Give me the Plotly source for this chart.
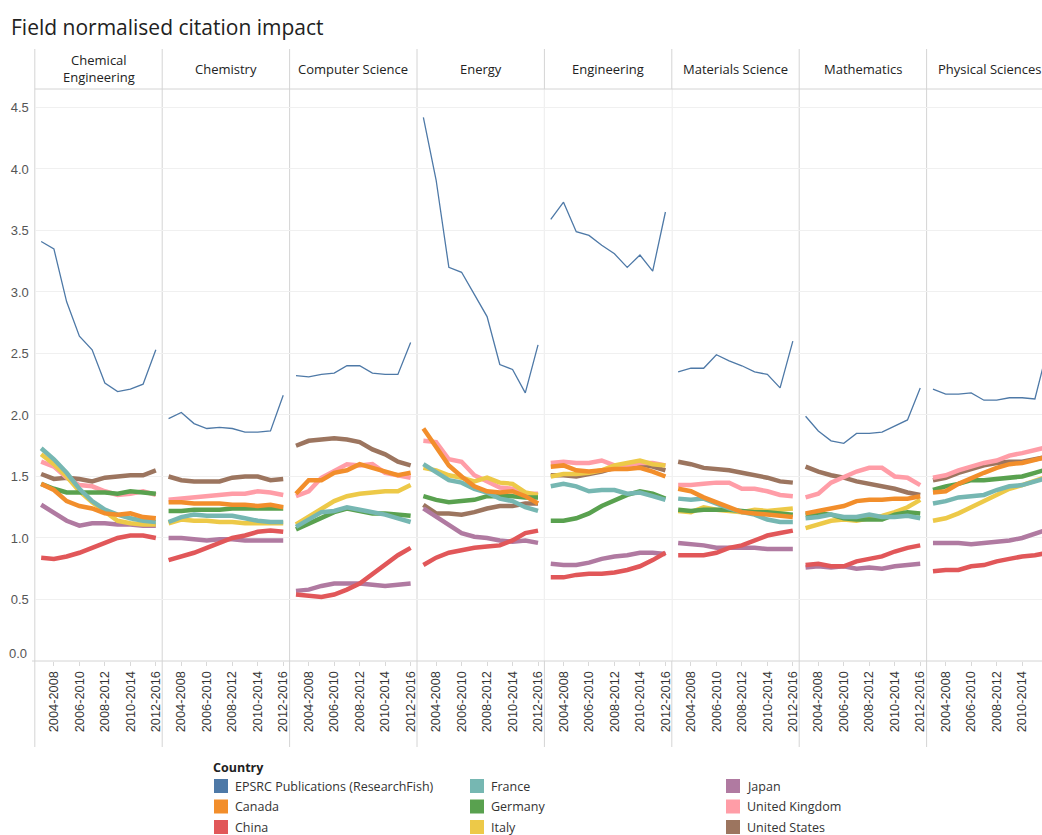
import plotly.graph_objects as go

# ---------------- data ----------------
periods = ["2003-2007", "2004-2008", "2005-2009", "2006-2010", "2007-2011",
           "2008-2012", "2009-2013", "2010-2014", "2011-2015", "2012-2016"]
tick_labels = ["2004-2008", "2006-2010", "2008-2012", "2010-2014", "2012-2016"]
fields = ["Chemical<br>Engineering", "Chemistry", "Computer Science", "Energy",
          "Engineering", "Materials Science", "Mathematics", "Physical Sciences"]
countries = ["EPSRC Publications (ResearchFish)", "Canada", "China", "France",
             "Germany", "Italy", "Japan", "United Kingdom", "United States"]
colors = ["#4e79a7", "#f28e2b", "#e15759", "#76b7b2", "#59a14f",
          "#edc948", "#b07aa1", "#ff9da7", "#9c755f"]
y_ticks = [0.0, 0.5, 1.0, 1.5, 2.0, 2.5, 3.0, 3.5, 4.0, 4.5]

# one list per field (order as in `fields`), 10 periods each
epsrc = [
    [3.41, 3.35, 2.92, 2.64, 2.53, 2.26, 2.19, 2.21, 2.25, 2.53],
    [1.97, 2.02, 1.93, 1.89, 1.90, 1.89, 1.86, 1.86, 1.87, 2.16],
    [2.32, 2.31, 2.33, 2.34, 2.40, 2.40, 2.34, 2.33, 2.33, 2.59],
    [4.42, 3.91, 3.20, 3.16, 2.98, 2.80, 2.41, 2.37, 2.18, 2.57],
    [3.59, 3.73, 3.49, 3.46, 3.38, 3.31, 3.20, 3.30, 3.17, 3.65],
    [2.35, 2.38, 2.38, 2.49, 2.44, 2.40, 2.35, 2.33, 2.22, 2.60],
    [1.99, 1.87, 1.79, 1.77, 1.85, 1.85, 1.86, 1.91, 1.96, 2.22],
    [2.21, 2.17, 2.17, 2.18, 2.12, 2.12, 2.14, 2.14, 2.13, 2.54],
]
canada = [
    [1.44, 1.39, 1.30, 1.26, 1.24, 1.20, 1.19, 1.20, 1.17, 1.16],
    [1.29, 1.29, 1.28, 1.28, 1.28, 1.27, 1.27, 1.26, 1.27, 1.25],
    [1.36, 1.47, 1.47, 1.53, 1.55, 1.60, 1.57, 1.54, 1.51, 1.53],
    [1.89, 1.74, 1.59, 1.50, 1.42, 1.38, 1.37, 1.38, 1.34, 1.28],
    [1.58, 1.59, 1.55, 1.54, 1.55, 1.56, 1.56, 1.57, 1.54, 1.50],
    [1.40, 1.38, 1.33, 1.29, 1.25, 1.21, 1.20, 1.19, 1.18, 1.17],
    [1.20, 1.22, 1.24, 1.26, 1.30, 1.31, 1.31, 1.32, 1.32, 1.34],
    [1.37, 1.38, 1.44, 1.49, 1.53, 1.57, 1.60, 1.61, 1.64, 1.66],
]
china = [
    [0.84, 0.83, 0.85, 0.88, 0.92, 0.96, 1.00, 1.02, 1.02, 1.00],
    [0.82, 0.85, 0.88, 0.92, 0.96, 1.00, 1.02, 1.05, 1.06, 1.05],
    [0.54, 0.53, 0.52, 0.54, 0.58, 0.63, 0.71, 0.79, 0.86, 0.92],
    [0.78, 0.84, 0.88, 0.90, 0.92, 0.93, 0.94, 0.98, 1.04, 1.06],
    [0.68, 0.68, 0.70, 0.71, 0.71, 0.72, 0.74, 0.77, 0.82, 0.88],
    [0.86, 0.86, 0.86, 0.88, 0.92, 0.94, 0.98, 1.02, 1.04, 1.06],
    [0.78, 0.79, 0.77, 0.77, 0.81, 0.83, 0.85, 0.89, 0.92, 0.94],
    [0.73, 0.74, 0.74, 0.77, 0.78, 0.81, 0.83, 0.85, 0.86, 0.88],
]
france = [
    [1.73, 1.64, 1.53, 1.40, 1.30, 1.23, 1.19, 1.16, 1.14, 1.13],
    [1.13, 1.17, 1.19, 1.18, 1.18, 1.18, 1.16, 1.14, 1.13, 1.13],
    [1.09, 1.15, 1.21, 1.22, 1.25, 1.23, 1.21, 1.19, 1.16, 1.13],
    [1.60, 1.53, 1.47, 1.45, 1.40, 1.37, 1.32, 1.30, 1.25, 1.22],
    [1.42, 1.44, 1.42, 1.38, 1.39, 1.39, 1.36, 1.37, 1.34, 1.31],
    [1.32, 1.31, 1.32, 1.28, 1.24, 1.21, 1.19, 1.15, 1.13, 1.13],
    [1.16, 1.17, 1.19, 1.17, 1.17, 1.19, 1.17, 1.17, 1.18, 1.16],
    [1.28, 1.30, 1.33, 1.34, 1.35, 1.39, 1.42, 1.43, 1.46, 1.49],
]
germany = [
    [1.44, 1.40, 1.37, 1.37, 1.37, 1.37, 1.36, 1.38, 1.37, 1.36],
    [1.22, 1.22, 1.23, 1.23, 1.23, 1.24, 1.24, 1.24, 1.24, 1.24],
    [1.07, 1.12, 1.17, 1.21, 1.24, 1.22, 1.20, 1.20, 1.19, 1.18],
    [1.34, 1.31, 1.29, 1.30, 1.31, 1.34, 1.34, 1.34, 1.33, 1.33],
    [1.14, 1.14, 1.16, 1.20, 1.26, 1.31, 1.35, 1.38, 1.36, 1.32],
    [1.23, 1.22, 1.23, 1.23, 1.23, 1.22, 1.21, 1.21, 1.20, 1.19],
    [1.19, 1.20, 1.19, 1.16, 1.15, 1.15, 1.15, 1.19, 1.21, 1.20],
    [1.39, 1.42, 1.44, 1.47, 1.47, 1.48, 1.49, 1.50, 1.53, 1.56],
]
italy = [
    [1.68, 1.60, 1.50, 1.38, 1.29, 1.22, 1.14, 1.12, 1.11, 1.11],
    [1.12, 1.15, 1.14, 1.14, 1.13, 1.13, 1.12, 1.12, 1.12, 1.12],
    [1.11, 1.17, 1.23, 1.30, 1.34, 1.36, 1.37, 1.38, 1.38, 1.43],
    [1.57, 1.55, 1.51, 1.49, 1.46, 1.49, 1.45, 1.44, 1.37, 1.35],
    [1.50, 1.52, 1.52, 1.53, 1.55, 1.59, 1.61, 1.63, 1.60, 1.59],
    [1.22, 1.21, 1.25, 1.23, 1.22, 1.21, 1.23, 1.22, 1.23, 1.24],
    [1.08, 1.11, 1.14, 1.15, 1.14, 1.16, 1.18, 1.21, 1.25, 1.31],
    [1.14, 1.16, 1.20, 1.25, 1.30, 1.36, 1.40, 1.43, 1.47, 1.50],
]
japan = [
    [1.27, 1.20, 1.14, 1.10, 1.12, 1.12, 1.11, 1.11, 1.10, 1.10],
    [1.00, 1.00, 0.99, 0.98, 0.99, 0.99, 0.98, 0.98, 0.98, 0.98],
    [0.57, 0.58, 0.61, 0.63, 0.63, 0.63, 0.62, 0.61, 0.62, 0.63],
    [1.24, 1.17, 1.10, 1.04, 1.01, 1.00, 0.98, 0.97, 0.98, 0.96],
    [0.79, 0.78, 0.78, 0.80, 0.83, 0.85, 0.86, 0.88, 0.88, 0.87],
    [0.96, 0.95, 0.94, 0.92, 0.92, 0.92, 0.92, 0.91, 0.91, 0.91],
    [0.76, 0.77, 0.76, 0.77, 0.75, 0.76, 0.75, 0.77, 0.78, 0.79],
    [0.96, 0.96, 0.96, 0.95, 0.96, 0.97, 0.98, 1.00, 1.03, 1.07],
]
united_kingdom = [
    [1.62, 1.58, 1.49, 1.43, 1.42, 1.38, 1.35, 1.36, 1.38, 1.35],
    [1.31, 1.32, 1.33, 1.34, 1.35, 1.36, 1.36, 1.38, 1.37, 1.35],
    [1.34, 1.38, 1.49, 1.54, 1.60, 1.59, 1.60, 1.53, 1.51, 1.49],
    [1.79, 1.78, 1.64, 1.62, 1.51, 1.46, 1.41, 1.40, 1.36, 1.36],
    [1.61, 1.62, 1.61, 1.61, 1.63, 1.59, 1.59, 1.61, 1.61, 1.59],
    [1.43, 1.43, 1.44, 1.45, 1.45, 1.40, 1.40, 1.38, 1.35, 1.34],
    [1.33, 1.36, 1.45, 1.50, 1.54, 1.57, 1.57, 1.50, 1.49, 1.43],
    [1.49, 1.51, 1.55, 1.58, 1.61, 1.63, 1.67, 1.69, 1.72, 1.74],
]
united_states = [
    [1.52, 1.48, 1.49, 1.48, 1.46, 1.49, 1.50, 1.51, 1.51, 1.55],
    [1.50, 1.47, 1.46, 1.46, 1.46, 1.49, 1.50, 1.50, 1.47, 1.48],
    [1.75, 1.79, 1.80, 1.81, 1.80, 1.78, 1.72, 1.68, 1.62, 1.59],
    [1.27, 1.20, 1.20, 1.19, 1.21, 1.24, 1.26, 1.26, 1.28, 1.28],
    [1.51, 1.51, 1.50, 1.52, 1.54, 1.57, 1.58, 1.60, 1.58, 1.55],
    [1.62, 1.60, 1.57, 1.56, 1.55, 1.53, 1.51, 1.49, 1.46, 1.45],
    [1.58, 1.54, 1.51, 1.49, 1.46, 1.44, 1.42, 1.40, 1.37, 1.35],
    [1.47, 1.49, 1.53, 1.56, 1.59, 1.61, 1.62, 1.62, 1.64, 1.66],
]
series = [epsrc, canada, china, france, germany, italy, japan,
          united_kingdom, united_states]

# ---------------- layout helpers ----------------
W, H = 1042, 835
def px(x):
    return x / W
def py(y):
    return 1 - y / H

LEFT, PW = 34.8, 127.4       # panel left edge / panel width (px)
TOP, BOTTOM = 89, 661        # plot area top / bottom (px)
STEP = PW / len(periods)
GRID = "#d4d4d4"
FONT = "Open Sans"

fig = go.Figure()
xs = list(range(len(periods)))
tickvals = [periods.index(t) for t in tick_labels]

draw_order = list(range(len(countries)))[::-1]   # first legend item drawn on top
for k, field in enumerate(fields):
    for ci in draw_order:
        fig.add_trace(go.Scatter(
            x=xs, y=series[ci][k], customdata=periods,
            mode="lines",
            line=dict(color=colors[ci], width=1.3 if ci == 0 else 4.5),
            name=countries[ci], showlegend=False,
            xaxis=f"x{k + 1}", yaxis=f"y{k + 1}",
            hovertemplate=countries[ci] + "<br>%{customdata}: %{y:.2f}<extra></extra>",
        ))

layout = dict(
    width=W, height=H,
    margin=dict(l=0, r=0, t=0, b=0),
    paper_bgcolor="white", plot_bgcolor="white",
    font=dict(family=FONT, color="#333"),
    showlegend=False,
)
for k in range(len(fields)):
    x0 = LEFT + PW * k
    x1 = min(x0 + PW, W)
    rmax = -0.5 + (x1 - x0) / STEP
    sfx = "" if k == 0 else str(k + 1)
    layout[f"xaxis{sfx}"] = dict(
        domain=[px(x0), px(x1)], range=[-0.5, rmax], anchor=f"y{k + 1}",
        tickmode="array", tickvals=tickvals, ticktext=tick_labels,
        tickangle=-90, ticks="outside", ticklen=4, tickcolor="#d9d9d9",
        tickfont=dict(family="Liberation Sans", size=12.8, color="#333"),
        showgrid=False, zeroline=False, showline=False, fixedrange=True,
    )
    layout[f"yaxis{sfx}"] = dict(
        domain=[py(BOTTOM), py(TOP)], range=[0, 4.65], anchor=f"x{k + 1}",
        tickmode="array", tickvals=y_ticks,
        # the 0.0 label is placed slightly above the axis (annotation below)
        ticktext=["" if v == 0 else f"{v:.1f}" for v in y_ticks],
        showticklabels=(k == 0), ticks="", ticklabelstandoff=5,
        tickfont=dict(family="Liberation Sans", size=13, color="#555"),
        showgrid=True, gridcolor="#f0f0f0", gridwidth=1,
        zeroline=False, showline=False, fixedrange=True,
    )
fig.update_layout(**layout)

shapes = []
# panel separators
for i in range(len(fields)):
    xx = px(LEFT + PW * i)
    shapes.append(dict(type="line", xref="paper", yref="paper", x0=xx, x1=xx,
                       y0=py(49), y1=py(747), line=dict(color=GRID, width=1),
                       layer="below"))
# header bottom line and x-axis line
shapes.append(dict(type="line", xref="paper", yref="paper", x0=px(LEFT), x1=1,
                   y0=py(TOP), y1=py(TOP), line=dict(color=GRID, width=1)))
shapes.append(dict(type="line", xref="paper", yref="paper", x0=px(32), x1=1,
                   y0=py(BOTTOM), y1=py(BOTTOM), line=dict(color=GRID, width=1)))

annotations = []
# title
annotations.append(dict(text="Field normalised citation impact", xref="paper", yref="paper",
                        x=px(9), y=py(27), xanchor="left", yanchor="middle",
                        showarrow=False, font=dict(family=FONT, size=21, color="#222")))
# 0.0 label (kept inside the plot like the original)
annotations.append(dict(text=f"{y_ticks[0]:.1f}", xref="paper", yref="paper",
                        x=px(LEFT - 6), y=py(653), xanchor="right", yanchor="middle",
                        showarrow=False,
                        font=dict(family="Liberation Sans", size=13, color="#555")))
# panel headers
for k, field in enumerate(fields):
    cx = LEFT + PW * k + PW / 2
    annotations.append(dict(text=field, xref="paper", yref="paper",
                            x=px(cx), y=py(69), xanchor="center", yanchor="middle",
                            showarrow=False, align="center",
                            font=dict(family=FONT, size=13, color="#222")))

# legend (drawn manually, 3 columns, column-major)
annotations.append(dict(text="<b>Country</b>", xref="paper", yref="paper",
                        x=px(211), y=py(767), xanchor="left", yanchor="middle",
                        showarrow=False, font=dict(family=FONT, size=12.5, color="#222")))
col_x = [214, 470, 726]
row_y = [786, 806.5, 827]
for i, (name, col) in enumerate(zip(countries, colors)):
    cxp = col_x[i // 3]
    ryp = row_y[i % 3]
    shapes.append(dict(type="rect", xref="paper", yref="paper",
                       x0=px(cxp), x1=px(cxp + 14), y0=py(ryp - 7), y1=py(ryp + 7),
                       fillcolor=col, line=dict(width=0)))
    annotations.append(dict(text=name, xref="paper", yref="paper",
                            x=px(cxp + 19), y=py(ryp), xanchor="left", yanchor="middle",
                            showarrow=False, font=dict(family=FONT, size=12.5, color="#333")))

fig.update_layout(shapes=shapes, annotations=annotations)

fig.write_html("out.html", config={"displayModeBar": False},
               post_script="document.body.style.margin='0';document.body.style.overflow='hidden';")
